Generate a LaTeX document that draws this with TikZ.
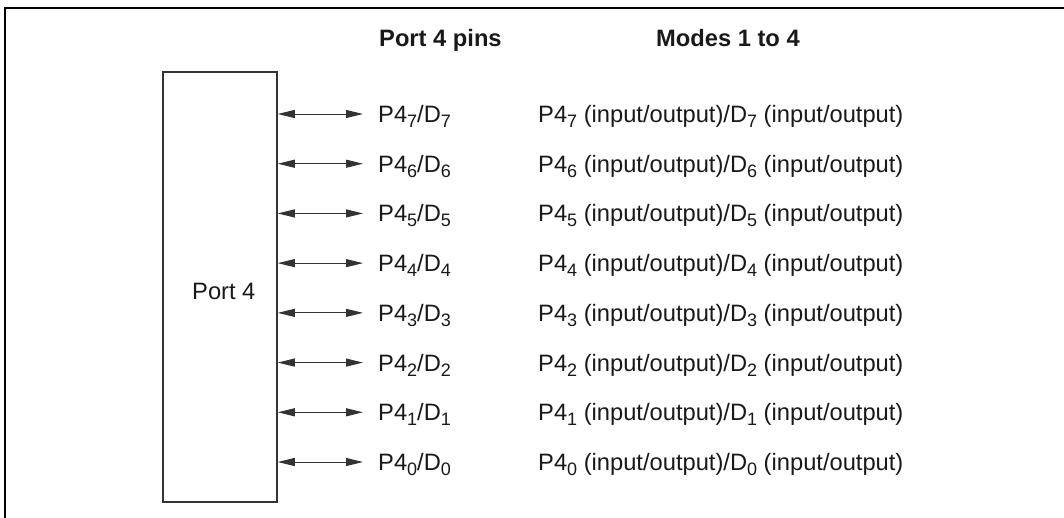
\documentclass[tikz,border=0pt]{standalone}
\usepackage{fontspec}
\setmainfont{Liberation Sans}
\usetikzlibrary{arrows.meta}
\newcommand{\subs}[1]{\raisebox{-5pt}{\fontsize{18}{18}\selectfont #1}}
\begin{document}
\begin{tikzpicture}[x=1pt,y=-1pt,
  txt/.style={inner sep=0pt, font=\fontsize{23.7}{28}\selectfont, text=black!90},
  hdr/.style={txt, font=\fontsize{23.7}{28}\selectfont\bfseries},
  portbox/.style={draw=black!80, line width=1.5pt, minimum width=114pt, minimum height=430pt, inner sep=0pt},
  conn/.style={draw=black!80, line width=1pt, {Triangle[length=17pt,width=8pt]}-{Triangle[length=17pt,width=8pt]}},
  frame/.style={draw=black, line width=2pt}]
\useasboundingbox (0,0) rectangle (1064,517);
\draw[frame] (5,540) -- (5,8) -- (1090,8);
\node[portbox] (port) at (220,287) {};
\node[txt, anchor=base west] (portlabel) at (192,299) {Port 4};
\node[hdr, anchor=base west] (hpins) at (379,46) {Port 4 pins};
\node[hdr, anchor=base west] (hmodes) at (656,46) {Modes 1 to 4};
\foreach \i in {7,...,0} {
  \pgfmathsetmacro{\yy}{114+(7-\i)*49.714}
  \coordinate (e\i) at (363,\yy);
  \node[txt, anchor=base west] (pin\i) at (378,\yy+8.5) {P4\subs{\i}/D\subs{\i}};
  \node[txt, anchor=base west] (mode\i) at (538,\yy+8.5) {P4\subs{\i} (input/output)/D\subs{\i} (input/output)};
  \draw[conn] (port.east |- e\i) -- (e\i);
}
\end{tikzpicture}
\end{document}
